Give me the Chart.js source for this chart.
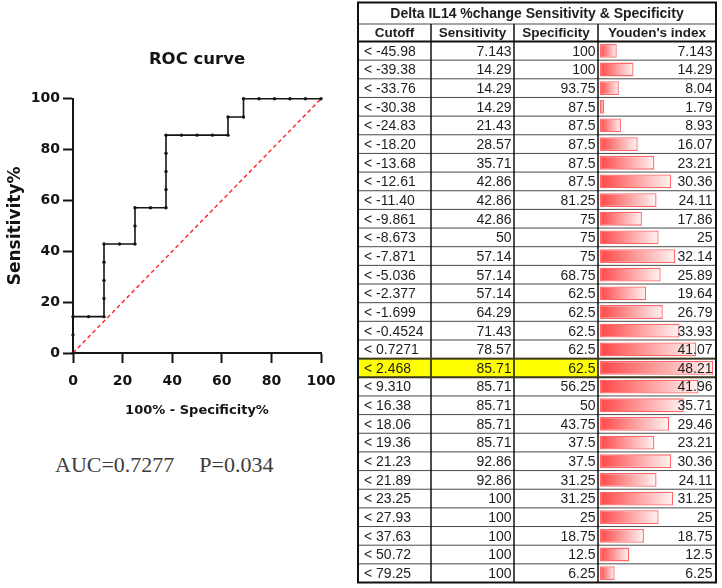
<!DOCTYPE html>
<html>
<head>
<meta charset="utf-8">
<script src="https://cdn.jsdelivr.net/npm/chart.js@4.4.1/dist/chart.umd.min.js"></script>
<style>
  html, body { margin: 0; padding: 0; background: #fff; }
  #page { position: relative; width: 722px; height: 588px; overflow: hidden; }
  #rocCanvas { position: absolute; left: 0; top: 0; }
  #tableCanvas { position: absolute; left: 355px; top: 0; }
  #auc {
    position: absolute; left: 55px; top: 452px;
    font: 22px "Liberation Serif", "Times New Roman", serif;
    line-height: 1.2; color: #3c3c3c; white-space: pre;
  }
  #auc span { margin-left: 25px; }
</style>
</head>
<body>
<div id="page">
  <canvas id="rocCanvas" width="360" height="430"></canvas>
  <div id="auc">AUC=0.7277<span>P=0.034</span></div>
  <canvas id="tableCanvas" width="367" height="588"></canvas>
</div>
<script>
// --- DATOS ---
const tableTitle = 'Delta IL14 %change Sensitivity & Specificity';
const headers = ['Cutoff', 'Sensitivity', 'Specificity', "Youden's index"];
const cutoffs = ['< -45.98', '< -39.38', '< -33.76', '< -30.38', '< -24.83', '< -18.20', '< -13.68',
  '< -12.61', '< -11.40', '< -9.861', '< -8.673', '< -7.871', '< -5.036', '< -2.377', '< -1.699',
  '< -0.4524', '< 0.7271', '< 2.468', '< 9.310', '< 16.38', '< 18.06', '< 19.36', '< 21.23',
  '< 21.89', '< 23.25', '< 27.93', '< 37.63', '< 50.72', '< 79.25'];
const sensitivity = [7.143, 14.29, 14.29, 14.29, 21.43, 28.57, 35.71, 42.86, 42.86, 42.86, 50,
  57.14, 57.14, 57.14, 64.29, 71.43, 78.57, 85.71, 85.71, 85.71, 85.71, 85.71, 92.86, 92.86,
  100, 100, 100, 100, 100];
const specificity = [100, 100, 93.75, 87.5, 87.5, 87.5, 87.5, 87.5, 81.25, 75, 75, 75, 68.75,
  62.5, 62.5, 62.5, 62.5, 62.5, 56.25, 50, 43.75, 37.5, 37.5, 31.25, 31.25, 25, 18.75, 12.5, 6.25];
const youden = [7.143, 14.29, 8.04, 1.79, 8.93, 16.07, 23.21, 30.36, 24.11, 17.86, 25, 32.14,
  25.89, 19.64, 26.79, 33.93, 41.07, 48.21, 41.96, 35.71, 29.46, 23.21, 30.36, 24.11, 31.25,
  25, 18.75, 12.5, 6.25];
const rocStart = [0, 0];
const rocEnd = [100, 100];
const axisTicks = [0, 20, 40, 60, 80, 100];

// --- CURVA ROC ---
const rocPoints = [{ x: rocStart[0], y: rocStart[1] }]
  .concat(sensitivity.map((s, i) => ({ x: 100 - specificity[i], y: s })))
  .concat([{ x: rocEnd[0], y: rocEnd[1] }]);
const chanceLine = [{ x: rocStart[0], y: rocStart[1] }, { x: rocEnd[0], y: rocEnd[1] }];

const boldFont = '"DejaVu Sans", Verdana, sans-serif';
const ink = '#141414';

function ejeRoc(titulo, size, pad) {
  return {
    type: 'linear',
    min: axisTicks[0],
    max: axisTicks[axisTicks.length - 1],
    afterBuildTicks: s => { s.ticks = axisTicks.map(v => ({ value: v })); },
    ticks: { color: ink, font: { family: boldFont, size: 14, weight: 'bold' }, padding: pad },
    grid: { drawOnChartArea: false, drawTicks: true, tickLength: 10, tickWidth: 2, tickColor: ink },
    border: { display: true, color: ink, width: 2 },
    title: { display: true, text: titulo, color: ink, font: { family: boldFont, size: size, weight: 'bold' } }
  };
}

const ejeX = ejeRoc('100% - Specificity%', 13, 10);
ejeX.title.padding = { top: 0, bottom: 12 };
ejeX.afterFit = s => { s.height = 77; };
const ejeY = ejeRoc('Sensitivity%', 17, 3);
ejeY.title.padding = { top: 5, bottom: 0 };
ejeY.afterFit = s => { s.width = 73; };

new Chart(document.getElementById('rocCanvas'), {
  type: 'scatter',
  data: {
    datasets: [{
      data: rocPoints,
      showLine: true,
      borderColor: ink,
      borderWidth: 1.6,
      pointRadius: 1.7,
      pointBackgroundColor: ink,
      pointBorderWidth: 0,
      clip: false
    }, {
      data: chanceLine,
      showLine: true,
      borderColor: 'rgb(255, 45, 45)',
      borderWidth: 1.5,
      borderDash: [4, 3],
      pointRadius: 0,
      clip: false
    }]
  },
  options: {
    responsive: false,
    animation: false,
    layout: { padding: { left: 0, right: 39, top: 0, bottom: 0 } },
    plugins: {
      legend: { display: false },
      tooltip: { enabled: false },
      title: {
        display: true,
        text: 'ROC curve',
        fullSize: false,
        color: ink,
        font: { family: boldFont, size: 16.5, weight: 'bold' },
        padding: { top: 50, bottom: 29 }
      }
    },
    scales: { x: ejeX, y: ejeY }
  }
});

// --- TABLA DE SENSIBILIDAD / ESPECIFICIDAD ---
// bordes de columna y filas de encabezado (coordenadas del canvas de la tabla)
const COL = [3, 76, 159, 243, 361];
const TITLE_TOP = 2.5;
const HEADER_TOP = 24;
const tableFont = '"Liberation Sans", Arial, sans-serif';
const best = youden.indexOf(Math.max(...youden));

const tablaPlugin = {
  id: 'tablaSens',
  beforeDatasetsDraw(chart) {
    const { ctx, chartArea, scales: { y } } = chart;
    const rowH = (chartArea.bottom - chartArea.top) / cutoffs.length;
    const yc = y.getPixelForValue(best);
    ctx.save();
    ctx.fillStyle = '#ffff00';
    ctx.fillRect(COL[0], yc - rowH / 2, COL[3] - COL[0], rowH);
    ctx.restore();
  },
  afterDatasetsDraw(chart) {
    const { ctx, chartArea, scales: { y } } = chart;
    const top = chartArea.top, bottom = chartArea.bottom;
    const rowH = (bottom - top) / cutoffs.length;
    ctx.save();

    // lineas de fila
    ctx.strokeStyle = '#4a4a4a';
    ctx.lineWidth = 1;
    for (let i = 1; i < cutoffs.length; i++) {
      const yy = y.getPixelForValue(i) - rowH / 2;
      ctx.beginPath(); ctx.moveTo(COL[0], yy); ctx.lineTo(COL[4], yy); ctx.stroke();
    }
    ctx.beginPath(); ctx.moveTo(COL[0], HEADER_TOP); ctx.lineTo(COL[4], HEADER_TOP); ctx.stroke();

    // columnas
    ctx.strokeStyle = '#111';
    ctx.lineWidth = 1.5;
    for (let c = 1; c < 4; c++) {
      ctx.beginPath(); ctx.moveTo(COL[c], HEADER_TOP); ctx.lineTo(COL[c], bottom); ctx.stroke();
    }
    ctx.lineWidth = 2;
    ctx.beginPath(); ctx.moveTo(COL[0], top); ctx.lineTo(COL[4], top); ctx.stroke();

    // fila resaltada
    const yb = y.getPixelForValue(best);
    ctx.strokeStyle = '#3b3b22';
    ctx.lineWidth = 2;
    ctx.strokeRect(COL[0], yb - rowH / 2, COL[4] - COL[0], rowH);

    // borde exterior
    ctx.strokeStyle = '#111';
    ctx.strokeRect(COL[0], TITLE_TOP, COL[4] - COL[0], bottom - TITLE_TOP);

    // textos
    ctx.fillStyle = '#1e1e1e';
    ctx.textBaseline = 'middle';
    ctx.font = 'bold 14px ' + tableFont;
    ctx.textAlign = 'center';
    ctx.fillText(tableTitle, (COL[0] + COL[4]) / 2, (TITLE_TOP + HEADER_TOP) / 2 + 1);
    ctx.font = 'bold 13.5px ' + tableFont;
    headers.forEach((h, c) => {
      ctx.fillText(h, (COL[c] + COL[c + 1]) / 2, (HEADER_TOP + top) / 2 + 1);
    });

    ctx.font = '14px ' + tableFont;
    cutoffs.forEach((cut, i) => {
      const yy = y.getPixelForValue(i) + 1;
      ctx.textAlign = 'left';
      ctx.fillText(cut, COL[0] + 6, yy);
      ctx.textAlign = 'right';
      ctx.fillText(String(sensitivity[i]), COL[2] - 2.5, yy);
      ctx.fillText(String(specificity[i]), COL[3] - 2.5, yy);
      ctx.fillText(String(youden[i]), COL[4] - 3.5, yy);
    });
    ctx.restore();
  }
};

function degradado(context) {
  const chart = context.chart;
  if (!chart.chartArea) return 'rgb(255, 85, 85)';
  const x = chart.scales.x;
  const x0 = x.getPixelForValue(0);
  const x1 = x.getPixelForValue(context.raw);
  const g = chart.ctx.createLinearGradient(x0, 0, Math.max(x1, x0 + 1), 0);
  g.addColorStop(0, 'rgb(255, 70, 70)');
  g.addColorStop(1, 'rgb(255, 244, 244)');
  return g;
}

new Chart(document.getElementById('tableCanvas'), {
  type: 'bar',
  data: {
    labels: cutoffs,
    datasets: [{
      data: youden,
      backgroundColor: degradado,
      borderColor: 'rgb(255, 105, 105)',
      borderWidth: 1.3,
      borderSkipped: false,
      barPercentage: 0.74,
      categoryPercentage: 1
    }]
  },
  options: {
    indexAxis: 'y',
    responsive: false,
    animation: false,
    layout: { padding: { left: 245, right: 9, top: 41.5, bottom: 5.5 } },
    plugins: { legend: { display: false }, tooltip: { enabled: false } },
    scales: {
      x: { type: 'linear', min: 0, max: Math.max(...youden), display: false },
      y: { type: 'category', offset: true, display: false }
    }
  },
  plugins: [tablaPlugin]
});
</script>
</body>
</html>
